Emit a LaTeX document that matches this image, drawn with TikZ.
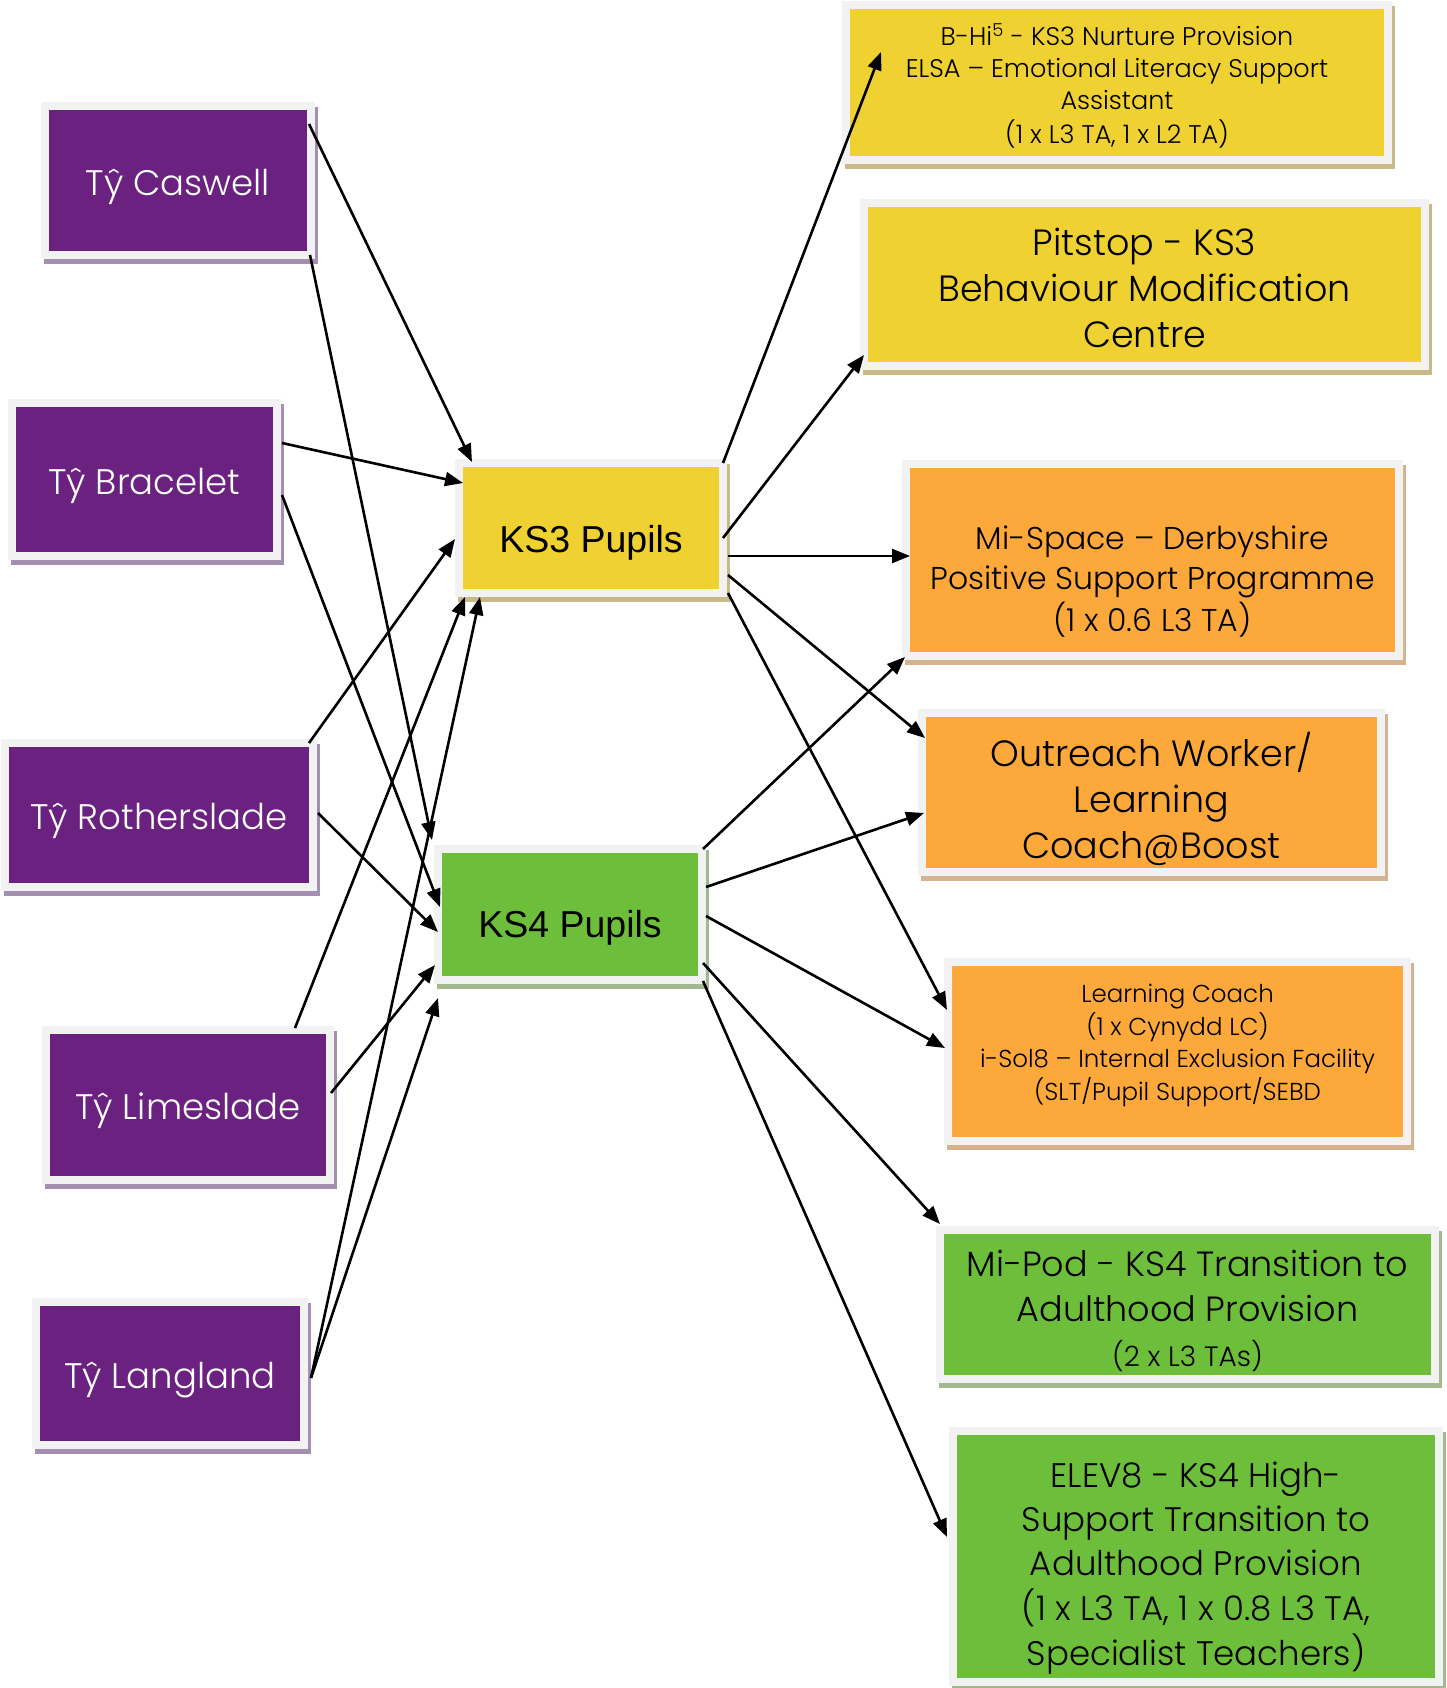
\documentclass[tikz,border=0pt]{standalone}
\usepackage{fontspec}
\setmainfont{Poppins Light}
\newfontfamily\arialf{Liberation Sans}
\usetikzlibrary{calc,arrows.meta}
\definecolor{purp}{HTML}{6B2180}
\definecolor{purpsh}{HTML}{A58FB0}
\definecolor{yel}{HTML}{EFD132}
\definecolor{yelsh}{HTML}{C8B987}
\definecolor{orn}{HTML}{FCA83A}
\definecolor{ornsh}{HTML}{D4B38E}
\definecolor{grn}{HTML}{6DBF3B}
\definecolor{grnsh}{HTML}{A3B88F}
\definecolor{framec}{HTML}{F2F2F2}
\newcommand\txt[3]{\raisebox{#1}[0pt][0pt]{#2\begin{tabular}{@{}c@{}}#3\end{tabular}}}
\newcommand\fs[2]{\fontsize{#1}{#2}\selectfont}
\tikzset{
  tbox/.style 2 args={fill=#1, draw=framec, line width=8pt, inner sep=0pt,
    preaction={fill=#2, draw=#2, line width=8pt, transform canvas={shift={(3pt,-5pt)}}}},
  purplebox/.style={tbox={purp}{purpsh}, text=white},
  yellowbox/.style={tbox={yel}{yelsh}, text=black},
  orangebox/.style={tbox={orn}{ornsh}, text=black},
  greenbox/.style={tbox={grn}{grnsh}, text=black},
  conn/.style={line width=2.6pt, -{Triangle[length=18pt,width=14pt]}}
}
\begin{document}
\begin{tikzpicture}[x=1pt,y=-1pt]
\useasboundingbox[fill=white] (0,0) rectangle (1447,1688);
% left column
\node[purplebox, minimum width=266pt, minimum height=149pt] (caswell) at (178,180.5)
  {\txt{-12.6pt}{\fs{35.5}{42}}{Tŷ Caswell}};
\node[purplebox, minimum width=265pt, minimum height=153pt] (bracelet) at (144.5,479.5)
  {\txt{-12.6pt}{\fs{35.5}{42}}{Tŷ Bracelet}};
\node[purplebox, minimum width=308pt, minimum height=144pt] (rotherslade) at (159,815)
  {\txt{-12.6pt}{\fs{35.5}{42}}{Tŷ Rotherslade}};
\node[purplebox, minimum width=284pt, minimum height=150pt] (limeslade) at (188,1105)
  {\txt{-12.6pt}{\fs{35.5}{42}}{Tŷ Limeslade}};
\node[purplebox, minimum width=268pt, minimum height=143pt] (langland) at (170,1373.5)
  {\txt{-12.6pt}{\fs{35.5}{42}}{Tŷ Langland}};
% middle
\node[yellowbox, minimum width=264pt, minimum height=130pt] (ks3) at (591,528)
  {\txt{-21.5pt}{\arialf\fs{37.5}{45}}{KS3 Pupils}};
\node[greenbox, minimum width=264pt, minimum height=131pt] (ks4) at (570,914.5)
  {\txt{-20.5pt}{\arialf\fs{37.5}{45}}{KS4 Pupils}};
% right column
\node[yellowbox, minimum width=542pt, minimum height=155pt] (bhi) at (1117,82.5)
  {\txt{-12pt}{\fs{25.5}{32}}{B-Hi\textsuperscript{5} - KS3 Nurture Provision\\ELSA – Emotional Literacy Support\\Assistant\\(1 x L3 TA, 1 x L2 TA)}};
\node[yellowbox, minimum width=561pt, minimum height=163pt] (pitstop) at (1144.5,284.5)
  {\txt{-14.4pt}{\fs{36.5}{46}}{Pitstop - KS3\\Behaviour Modification\\Centre}};
\node[orangebox, minimum width=493pt, minimum height=192pt] (mispace) at (1152.5,560)
  {\txt{-28.6pt}{\fs{31.5}{40}}{Mi-Space – Derbyshire\\Positive Support Programme\\(1 x 0.6 L3 TA)}};
\node[orangebox, minimum width=459pt, minimum height=159pt] (outreach) at (1151.5,792.5)
  {\txt{-16.4pt}{\fs{36.5}{46}}{Outreach Worker/\\Learning\\Coach@Boost}};
\node[orangebox, minimum width=459pt, minimum height=179pt] (lc) at (1177.5,1051.5)
  {\txt{0.1pt}{\fs{24.5}{32.5}}{Learning Coach\\(1 x Cynydd LC)\\i-Sol8 – Internal Exclusion Facility\\(SLT/Pupil Support/SEBD}};
\node[greenbox, minimum width=495pt, minimum height=149pt] (mipod) at (1187.5,1304.5)
  {\txt{-13.9pt}{\fs{35}{45}}{Mi-Pod - KS4 Transition to\\Adulthood Provision\\\fs{28}{45}(2 x L3 TAs)}};
\node[greenbox, minimum width=486pt, minimum height=251pt] (elev8) at (1196,1556.5)
  {\txt{-17.5pt}{\fs{34}{44}}{ELEV8 - KS4 High-\\Support Transition to\\Adulthood Provision\\(1 x L3 TA, 1 x 0.8 L3 TA,\\Specialist Teachers)}};
% connectors left -> middle
\draw[conn] ($(caswell.center)+(131,-56.5)$) -- ($(ks3.center)+(-119,-66)$);
\draw[conn] ($(caswell.center)+(132,74.5)$) -- ($(ks4.center)+(-138,-74.5)$);
\draw[conn] ($(bracelet.center)+(137.5,-36.5)$) -- ($(ks3.center)+(-128,-45)$);
\draw[conn] ($(bracelet.center)+(137.5,15.5)$) -- ($(ks4.center)+(-130,-7.5)$);
\draw[conn] ($(rotherslade.center)+(150,-72)$) -- ($(ks3.center)+(-136,11)$);
\draw[conn] ($(rotherslade.center)+(159,-2)$) -- ($(ks4.center)+(-132,17.5)$);
\draw[conn] ($(limeslade.center)+(107,-77)$) -- ($(ks3.center)+(-126,69)$);
\draw[conn] ($(limeslade.center)+(143,-12)$) -- ($(ks4.center)+(-135,50.5)$);
\draw[conn] ($(langland.center)+(141,4.5)$) -- ($(ks3.center)+(-111,69)$);
\draw[conn] ($(langland.center)+(141,4.5)$) -- ($(ks4.center)+(-132,83.5)$);
% connectors middle -> right
\draw[conn] ($(ks3.center)+(132,-65)$) -- ($(bhi.center)+(-236,-30.5)$);
\draw[conn] ($(ks3.center)+(132,10)$) -- ($(pitstop.center)+(-280.5,70.5)$);
\draw[conn] ($(ks3.center)+(137,28)$) -- ($(mispace.center)+(-242.5,-4)$);
\draw[conn] ($(ks3.center)+(137,47)$) -- ($(outreach.center)+(-226.5,-54.5)$);
\draw[conn] ($(ks3.center)+(137,65)$) -- ($(lc.center)+(-230.5,-41.5)$);
\draw[conn] ($(ks4.center)+(133,-65.5)$) -- ($(mispace.center)+(-247.5,97)$);
\draw[conn] ($(ks4.center)+(136,-27.5)$) -- ($(outreach.center)+(-227.5,20.5)$);
\draw[conn] ($(ks4.center)+(136,1.5)$) -- ($(lc.center)+(-232.5,-3.5)$);
\draw[conn] ($(ks4.center)+(133,48.5)$) -- ($(mipod.center)+(-247.5,-80.5)$);
\draw[conn] ($(ks4.center)+(133,66.5)$) -- ($(elev8.center)+(-249,-19.5)$);
\end{tikzpicture}
\end{document}
